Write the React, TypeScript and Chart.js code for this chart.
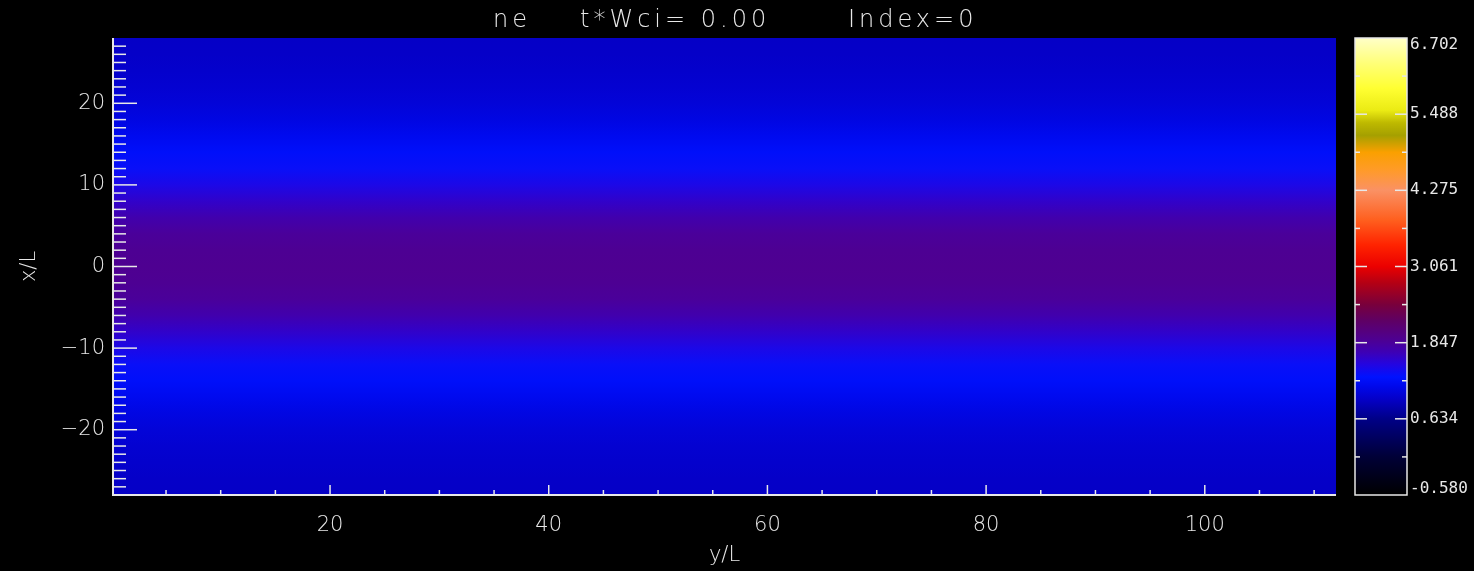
import React, { useEffect, useRef } from "react";
import { Chart, registerables } from "chart.js";

Chart.register(...registerables);

// ---- data ----
// x/L positions (vertical axis) of the density profile rows
const profileX = [-28, -26, -24, -22, -20, -18, -16, -14, -12, -10, -8, -6, -4, -2, 0, 2, 4, 6, 8, 10, 12, 14, 16, 18, 20, 22, 24, 26, 28];
// ne values along x/L (uniform along y/L)
const neProfile = [0.94, 0.95, 0.97, 1.0, 1.04, 1.1, 1.18, 1.26, 1.35, 1.46, 1.6, 1.74, 1.85, 1.89, 1.9, 1.89, 1.85, 1.74, 1.6, 1.46, 1.35, 1.26, 1.18, 1.1, 1.04, 1.0, 0.97, 0.95, 0.94];

const xMajorTicks = [20, 40, 60, 80, 100];
const xMinorTicks = [5, 10, 15, 25, 30, 35, 45, 50, 55, 65, 70, 75, 85, 90, 95, 105, 110];
const yMajorTicks = [-20, -10, 0, 10, 20];
const yMinorTicks = [-27, -26, -25, -24, -23, -22, -21, -19, -18, -17, -16, -15, -14, -13, -12, -11, -9, -8, -7, -6, -5, -4, -3, -2, -1, 1, 2, 3, 4, 5, 6, 7, 8, 9, 11, 12, 13, 14, 15, 16, 17, 18, 19, 21, 22, 23, 24, 25, 26, 27];

const cbTickValues = [-0.58, 0.634, 1.847, 3.061, 4.275, 5.488, 6.702];
const cbTickLabels = ["-0.580", "0.634", "1.847", "3.061", "4.275", "5.488", "6.702"];
const cbMinorValues = [0.027, 1.2405, 2.454, 3.668, 4.8815, 6.095];

const cmapValues = [-0.58, 0.03, 0.634, 0.95, 1.15, 1.3, 1.5, 1.7, 1.9, 2.2, 2.45, 2.8, 3.061, 3.4, 3.8, 4.275, 4.6, 4.88, 5.15, 5.35, 5.55, 5.9, 6.3, 6.702];
const cmapColors = [
  [0, 0, 0], [0, 0, 55], [0, 0, 135], [5, 0, 200], [0, 8, 235], [0, 18, 255], [35, 5, 225], [62, 0, 180],
  [78, 0, 145], [95, 0, 100], [120, 0, 60], [180, 0, 20], [235, 0, 0], [255, 35, 0], [255, 95, 30],
  [250, 145, 100], [255, 155, 40], [250, 160, 0], [165, 160, 0], [190, 185, 0], [235, 235, 20],
  [255, 255, 50], [255, 255, 120], [255, 255, 200],
];

const titleParts = ["ne", "t*Wci= 0.00", "Index=0"];
const xTitle = "y/L";
const yTitle = "x/L";

const FG = "#e8e8e8";
const LABEL_FONT = { family: "'DejaVu Sans', sans-serif", size: 21, weight: "200" as any };

function cmap(v: number): string {
  if (v <= cmapValues[0]) return `rgb(${cmapColors[0].join(",")})`;
  for (let i = 1; i < cmapValues.length; i++) {
    if (v <= cmapValues[i]) {
      const t = (v - cmapValues[i - 1]) / (cmapValues[i] - cmapValues[i - 1]);
      const a = cmapColors[i - 1];
      const b = cmapColors[i];
      const c = a.map((av, k) => Math.round(av + (b[k] - av) * t));
      return `rgb(${c.join(",")})`;
    }
  }
  return `rgb(${cmapColors[cmapColors.length - 1].join(",")})`;
}

const heatmapPlugin = {
  id: "heatmap",
  beforeDraw(chart: any) {
    const { ctx, chartArea } = chart;
    const ys = chart.scales.y;
    ctx.save();
    ctx.fillStyle = "#000";
    ctx.fillRect(0, 0, chart.width, chart.height);
    const g = ctx.createLinearGradient(0, chartArea.top, 0, chartArea.bottom);
    profileX.forEach((xv, i) => {
      const p = ys.getPixelForValue(xv);
      const s = Math.min(1, Math.max(0, (p - chartArea.top) / (chartArea.bottom - chartArea.top)));
      g.addColorStop(s, cmap(neProfile[i]));
    });
    ctx.fillStyle = g;
    ctx.fillRect(chartArea.left, chartArea.top, chartArea.right - chartArea.left, chartArea.bottom - chartArea.top);
    ctx.restore();
  },
  afterDraw(chart: any) {
    const { ctx, chartArea } = chart;
    const xs = chart.scales.x;
    const ys = chart.scales.y;
    const cb = chart.scales.cb;
    ctx.save();
    ctx.strokeStyle = FG;
    ctx.lineWidth = 2;
    // axes lines
    ctx.beginPath();
    ctx.moveTo(chartArea.left, chartArea.top);
    ctx.lineTo(chartArea.left, chartArea.bottom);
    ctx.lineTo(chartArea.right, chartArea.bottom);
    ctx.stroke();
    // ticks
    ctx.lineWidth = 1.5;
    const tick = (x1: number, y1: number, x2: number, y2: number) => {
      ctx.beginPath();
      ctx.moveTo(x1, y1);
      ctx.lineTo(x2, y2);
      ctx.stroke();
    };
    xMajorTicks.forEach((v) => { const p = xs.getPixelForValue(v); tick(p, chartArea.bottom, p, chartArea.bottom - 10); });
    xMinorTicks.forEach((v) => { const p = xs.getPixelForValue(v); tick(p, chartArea.bottom, p, chartArea.bottom - 5); });
    yMajorTicks.forEach((v) => { const p = ys.getPixelForValue(v); tick(chartArea.left, p, chartArea.left + 24, p); });
    yMinorTicks.forEach((v) => { const p = ys.getPixelForValue(v); tick(chartArea.left, p, chartArea.left + 13, p); });

    // colorbar
    const cbLeft = 1355;
    const cbRight = 1407;
    const top = cb.getPixelForValue(cbTickValues[cbTickValues.length - 1]);
    const bottom = cb.getPixelForValue(cbTickValues[0]);
    const g = ctx.createLinearGradient(0, bottom, 0, top);
    cmapValues.forEach((v, i) => {
      const p = cb.getPixelForValue(v);
      g.addColorStop(Math.min(1, Math.max(0, (bottom - p) / (bottom - top))), `rgb(${cmapColors[i].join(",")})`);
    });
    ctx.fillStyle = g;
    ctx.fillRect(cbLeft, top, cbRight - cbLeft, bottom - top);
    ctx.strokeStyle = FG;
    ctx.lineWidth = 1.5;
    ctx.strokeRect(cbLeft, top, cbRight - cbLeft, bottom - top);
    cbTickValues.slice(1, -1).forEach((v) => {
      const p = cb.getPixelForValue(v);
      tick(cbLeft, p, cbLeft + 12, p);
      tick(cbRight, p, cbRight - 12, p);
    });
    cbMinorValues.forEach((v) => {
      const p = cb.getPixelForValue(v);
      tick(cbLeft, p, cbLeft + 5, p);
      tick(cbRight, p, cbRight - 5, p);
    });
    ctx.fillStyle = FG;
    ctx.font = "16px 'DejaVu Sans Mono', monospace";
    ctx.textAlign = "left";
    cbTickValues.forEach((v, i) => {
      const p = cb.getPixelForValue(v);
      if (i === 0) { ctx.textBaseline = "bottom"; ctx.fillText(cbTickLabels[i], cbRight + 3, p + 2); }
      else if (i === cbTickValues.length - 1) { ctx.textBaseline = "top"; ctx.fillText(cbTickLabels[i], cbRight + 3, p - 1); }
      else { ctx.textBaseline = "middle"; ctx.fillText(cbTickLabels[i], cbRight + 3, p); }
    });

    // title
    ctx.font = "200 24px 'DejaVu Sans', sans-serif";
    (ctx as any).letterSpacing = "4px";
    ctx.textBaseline = "middle";
    ctx.fillText(titleParts[0], 493, 21);
    ctx.fillText(titleParts[1], 580, 21);
    ctx.fillText(titleParts[2], 848, 21);
    ctx.restore();
  },
};

export default function App() {
  const ref = useRef<HTMLCanvasElement | null>(null);
  useEffect(() => {
    document.body.style.margin = "0";
    document.body.style.background = "#000";
    if (!ref.current) return;
    const chart = new Chart(ref.current, {
      type: "scatter",
      data: { datasets: [{ data: [], pointRadius: 0 }] },
      options: {
        animation: false,
        responsive: false,
        maintainAspectRatio: false,
        layout: { padding: { top: 38, right: 138, left: 0, bottom: 0 } },
        plugins: { legend: { display: false }, tooltip: { enabled: false }, title: { display: false } },
        scales: {
          x: {
            type: "linear",
            position: "bottom",
            min: 0.15,
            max: 112,
            afterBuildTicks: (s: any) => { s.ticks = xMajorTicks.map((v) => ({ value: v })); },
            afterFit: (s: any) => { s.height = 76; },
            grid: { display: false, drawTicks: false },
            border: { display: false },
            ticks: { color: FG, font: LABEL_FONT, padding: 18, maxRotation: 0, autoSkip: false },
            title: { display: true, text: xTitle, color: FG, font: LABEL_FONT, padding: { top: 0, bottom: 3 } },
          },
          y: {
            type: "linear",
            position: "left",
            min: -28,
            max: 28,
            afterBuildTicks: (s: any) => { s.ticks = yMajorTicks.map((v) => ({ value: v })); },
            afterFit: (s: any) => { s.width = 113; },
            grid: { display: false, drawTicks: false },
            border: { display: false },
            ticks: { color: FG, font: LABEL_FONT, padding: 8, autoSkip: false,
              callback: (v: any) => (Number(v) < 0 ? "\u2212" + Math.abs(Number(v)) : String(v)) },
            title: { display: true, text: yTitle, color: FG, font: LABEL_FONT, padding: { top: 17, bottom: 0 } },
          },
          cb: {
            type: "linear",
            position: "right",
            display: false,
            min: cbTickValues[0],
            max: cbTickValues[cbTickValues.length - 1],
          },
        },
      } as any,
      plugins: [heatmapPlugin],
    });
    return () => chart.destroy();
  }, []);
  return (
    <div style={{ width: 1474, height: 571, background: "#000" }}>
      <canvas ref={ref} width={1474} height={571} style={{ display: "block" }} />
    </div>
  );
}
